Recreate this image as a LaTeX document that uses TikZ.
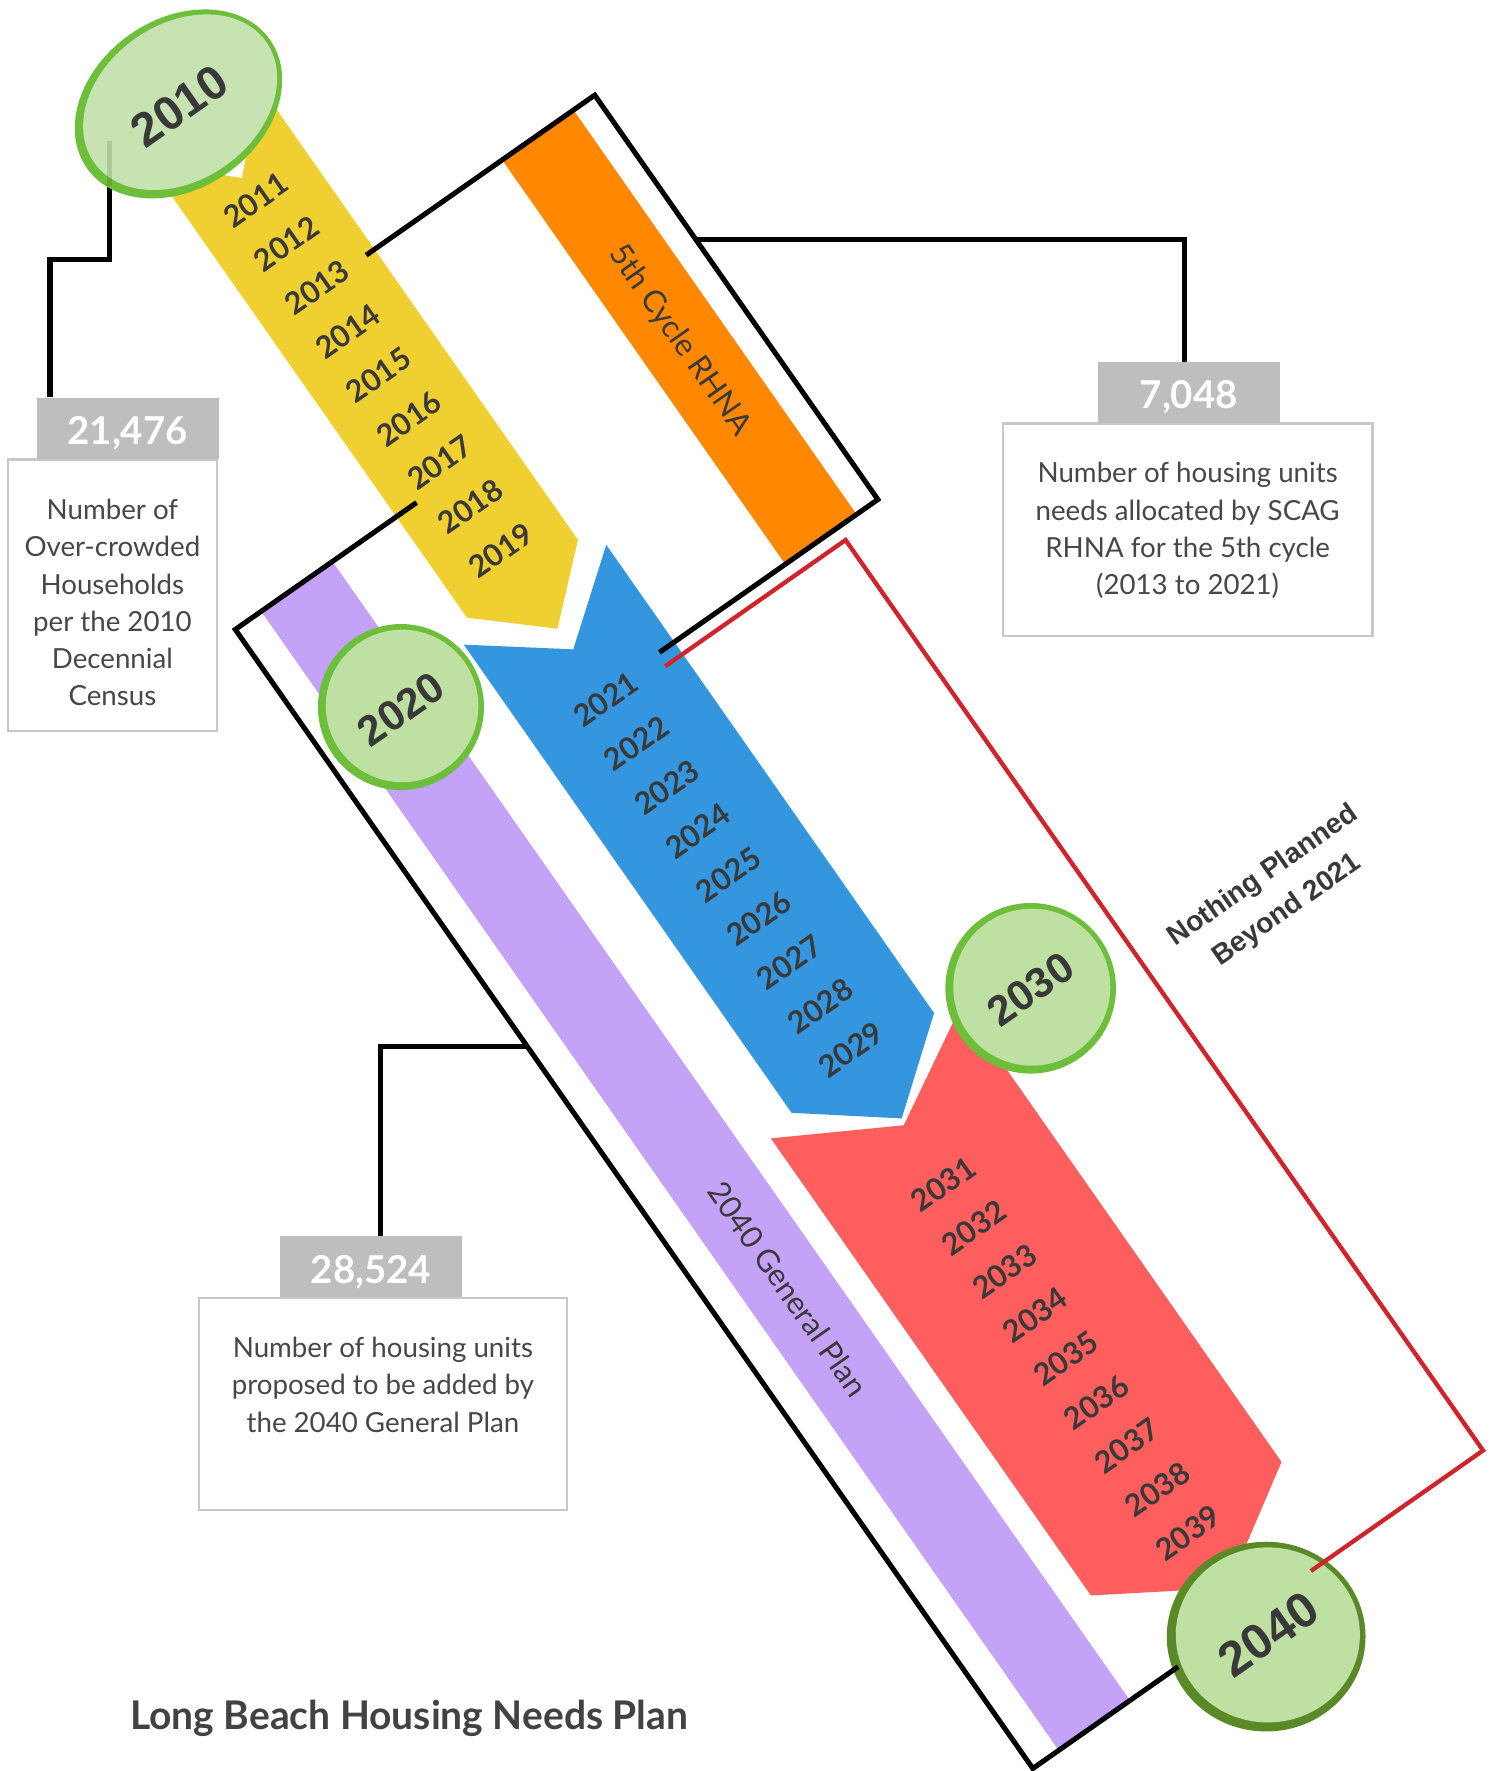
\documentclass[tikz,border=0pt]{standalone}
\usepackage{fontspec}
\usepackage{graphicx}
\setmainfont{Lato}
\newfontfamily\helv{Liberation Sans}
\usetikzlibrary{calc}
\definecolor{cyellow}{HTML}{F0D030}
\definecolor{corange}{HTML}{FF8800}
\definecolor{cblue}{HTML}{3396DF}
\definecolor{cred}{HTML}{FE5E5D}
\definecolor{cpurple}{HTML}{C4A2F8}
\definecolor{redline}{HTML}{D0232A}
\definecolor{rimgreen}{HTML}{6DBE3A}
\definecolor{rimdark}{HTML}{5A8A28}
\definecolor{discfill}{HTML}{BFE0A3}
\definecolor{discfilla}{HTML}{C6E3B1}
\definecolor{numgray}{HTML}{BEBEBE}
\definecolor{boxline}{HTML}{C8C8C8}
\definecolor{txtdark}{HTML}{393939}
\definecolor{txtbox}{HTML}{474747}
\definecolor{titlegray}{HTML}{424242}
\begin{document}
\begin{tikzpicture}[x=1pt,y=-1pt,
  blackframe/.style={draw=black,line width=4.5pt,line join=miter},
  redframe/.style={draw=redline,line width=3.8pt,line join=miter},
  conn/.style={draw=black,line width=4.5pt,line join=miter},
  yearlbl/.style={font={\fontsize{27}{27}\selectfont\bfseries},text=txtdark,rotate=35,inner sep=0pt},
  bigyear/.style={text=txtdark,rotate=35,inner sep=0pt},
  bandlbl/.style={font={\fontsize{27.5}{27.5}\selectfont},text=txtdark,rotate=-55,inner sep=0pt},
  numbox/.style={fill=numgray,text=white,font={\fontsize{34}{34}\selectfont\bfseries},inner sep=0pt,minimum width=161pt,minimum height=54pt,text height=29pt,text depth=0pt},
  descbox/.style={draw=boxline,line width=2.2pt,fill=white,inner sep=0pt},
  descline/.style={font={\fontsize{24.5}{24.5}\selectfont},text=txtbox,anchor=base,inner sep=0pt},
]
\fill[white] (0,0) rectangle (1325,1568);
\useasboundingbox (0,0) rectangle (1325,1568);

% ---------- bands and arrows (rotated frame: s along band, t across) ----------
\begin{scope}[x={(0.5736pt,-0.8192pt)},y={(0.8192pt,0.5736pt)}]
  \fill[corange] (371,283) -- (371,360) -- (808,360) -- (808,283) -- cycle;
  \fill[cpurple] (576,-121) -- (576,-44) -- (1807,-44) -- (1807,-121) -- cycle;
  \fill[cyellow] (193,25) -- (252,85) -- (193,145) -- (685,145) -- (739,85) -- (685,25) -- cycle;
  \fill[cblue] (703,9) -- (762,86) -- (703,163) -- (1209,163) -- (1269,86) -- (1209,9) -- cycle;
  \fill[cred] (1217,-19) -- (1275,84) -- (1217,187) -- (1711,187) -- (1775,84) -- (1711,-19) -- cycle;
  \foreach \k in {0,...,8} {
    \pgfmathtruncatemacro{\ya}{2011+\k}
    \node[yearlbl] (y\ya) at ({275+47.3*\k},84) {\ya};
    \pgfmathtruncatemacro{\yb}{2021+\k}
    \node[yearlbl] (y\yb) at ({815+47.3*\k},84) {\yb};
    \pgfmathtruncatemacro{\yc}{2031+\k}
    \node[yearlbl] (y\yc) at ({1338+47.1*\k},83) {\yc};
  }
  \node[bandlbl] (lblrhna) at (592,320) {5th Cycle RHNA};
  \node[bandlbl] (lblgp) at (1335,-83) {2040 General Plan};
  \coordinate (f1a) at (371,136);
  \coordinate (f1b) at (371,383);
  \coordinate (f1c) at (808,383);
  \coordinate (f1d) at (808,147);
  \coordinate (f1j) at (527,383);
  \coordinate (f2a) at (576,47);
  \coordinate (f2b) at (576,-149);
  \coordinate (f2c) at (1807,-149);
  \coordinate (f2d) at (1807,8);
  \coordinate (f2j) at (1027,-149);
  \coordinate (r1a) at (821,144);
  \coordinate (r1b) at (821,339);
  \coordinate (r1c) at (1805,339);
  \coordinate (r1d) at (1805,153);
\end{scope}

% ---------- info boxes ----------
\node[descbox,minimum width=185pt,minimum height=240pt] (d1) at (99.5,527) {};
\node[numbox] (n1) at (113,379) {21,476};
\foreach \txt [count=\i from 0] in {Number of,Over-crowded,Households,per the 2010,Decennial,Census}
  \node[descline] (d1l\i) at (99.5,{460+33*\i}) {\txt};

\node[descbox,minimum width=327pt,minimum height=188pt] (d2) at (1051.5,469) {};
\node[numbox] (n2) at (1052.5,347.5) {7,048};
\foreach \txt [count=\i from 0] in {Number of housing units,needs allocated by SCAG,RHNA for the 5th cycle,(2013 to 2021)}
  \node[descline] (d2l\i) at (1051.5,{427.5+33*\i}) {\txt};

\node[descbox,minimum width=326pt,minimum height=188pt] (d3) at (339,1243) {};
\node[numbox] (n3) at (328.5,1121.5) {28,524};
\foreach \txt [count=\i from 0] in {Number of housing units,proposed to be added by,the 2040 General Plan}
  \node[descline] (d3l\i) at (339,{1202+33*\i}) {\txt};

% ---------- connectors ----------
\coordinate (e2010) at (97,125);
\draw[conn] (e2010) -- (97,230) -| ($(n1.north west)+(12,0)$);
\draw[conn] (f1j) -| ($(n2.north)+(-4,0)$);
\draw[conn] (f2j) -| ($(n3.north)+(8,0)$);

% ---------- year discs ----------
\fill[rimgreen,rotate around={35:(158,92)}] (158,92) ellipse [x radius=99pt,y radius=75pt];
\fill[discfilla,rotate around={35:(159.5,90.5)}] (159.5,90.5) ellipse [x radius=93pt,y radius=69pt];
\draw[conn,opacity=0.12] (e2010) -- (97,165);
\node[bigyear,font={\fontsize{42}{42}\selectfont\helv\bfseries}] (c2010) at (159,94) {2010};

\fill[rimgreen] (355,626) circle [radius=73.5pt];
\fill[discfill] (356,625) circle [radius=67.5pt];
\node[bigyear,font={\fontsize{37.5}{37.5}\selectfont\helv\bfseries}] (c2020) at (355,628) {2020};

\fill[rimgreen] (912.5,875) circle [radius=75.5pt];
\fill[discfill] (913.5,874) circle [radius=69.5pt];
\node[bigyear,font={\fontsize{37.5}{37.5}\selectfont\helv\bfseries}] (c2030) at (912.5,876) {2030};

\fill[rimdark] (1121,1449) ellipse [x radius=88pt,y radius=84pt];
\fill[discfill] (1122.5,1447.5) ellipse [x radius=81.5pt,y radius=77.5pt];
\node[bigyear,font={\fontsize{43.5}{43.5}\selectfont\helv\bfseries}] (c2040) at (1123,1447) {2040};

% ---------- frames ----------
\draw[blackframe] (f1a) -- (f1b) -- (f1c) -- (f1d);
\draw[blackframe] (f2a) -- (f2b) -- (f2c) -- (f2d);
\draw[redframe] (r1a) -- (r1b) -- (r1c) -- (r1d);

% ---------- free texts ----------
\node[rotate=35,align=center,inner sep=0pt,text=txtdark,font={\fontsize{25}{37}\selectfont\helv\bfseries}] (nothing) at (1129,791) {Nothing Planned\\Beyond 2021};
\node[anchor=base west,inner sep=0pt,text=titlegray] (title) at (115,1531)
  {\resizebox{494pt}{\height}{\fontsize{35}{35}\selectfont\bfseries Long Beach Housing Needs Plan}};
\end{tikzpicture}
\end{document}
